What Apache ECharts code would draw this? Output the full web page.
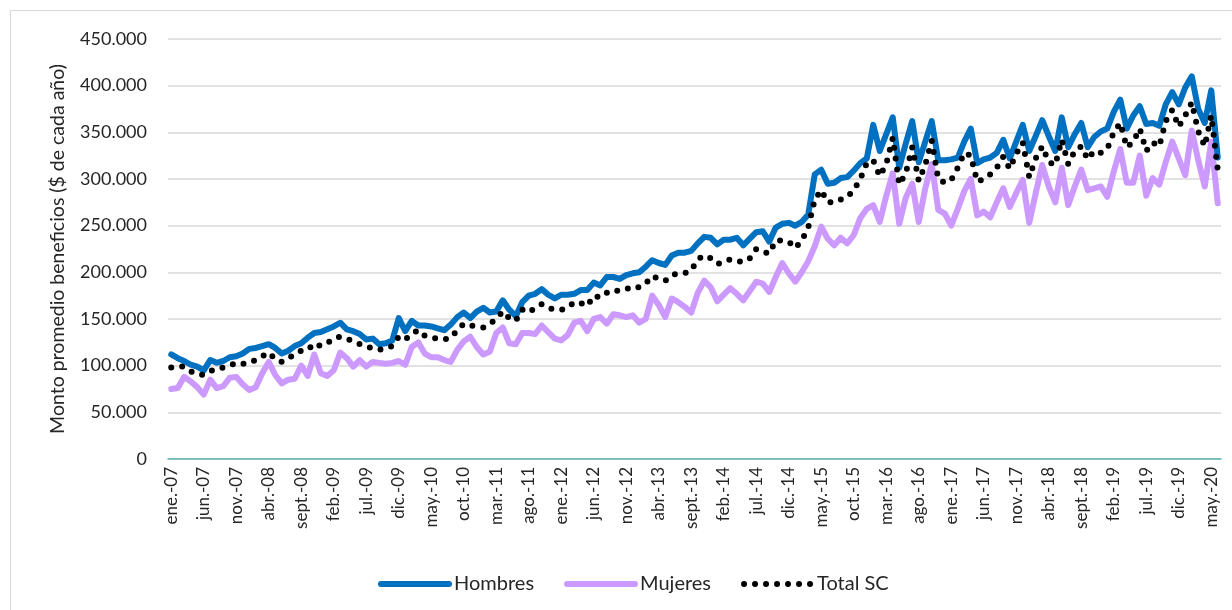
<!DOCTYPE html>
<html>
<head>
<meta charset="utf-8">
<script src="https://cdn.jsdelivr.net/npm/echarts@6/dist/echarts.min.js"></script>
<style>
  html, body { margin: 0; padding: 0; background: #ffffff; }
  #frame { position: absolute; left: 10px; top: 10px; width: 1240px; height: 620px; border: 1px solid #d9d9d9; box-sizing: border-box; }
  #chart { position: absolute; left: 0; top: 0; width: 1232px; height: 610px; }
</style>
</head>
<body>
<div id="frame"></div>
<div id="chart"></div>
<script>
// Month abbreviations and years used for the category labels
const monthAbbr = ['ene.', 'feb.', 'mar.', 'abr.', 'may.', 'jun.', 'jul.', 'ago.', 'sept.', 'oct.', 'nov.', 'dic.'];
const years = ['07','08','09','10','11','12','13','14','15','16','17','18','19','20'];
const lastYearMonths = 6; // data ends jun.-20

// Y tick values (thousands of $)
const yTicks = [0, 50, 100, 150, 200, 250, 300, 350, 400, 450];

// Series values, thousands of $ (ene.-07 ... jun.-20)
const hombres = [
  112,108,105,101, 99, 95,106,103,105,109,110,113,
  118,119,121,123,119,113,116,121,124,130,135,136,
  139,142,146,139,137,134,128,129,123,124,127,151,
  137,148,143,143,142,140,138,144,152,157,151,158,
  162,157,158,170,160,153,168,175,177,182,176,172,
  176,176,177,181,181,189,186,195,195,193,197,199,
  200,206,213,210,208,218,221,221,223,231,238,237,
  230,235,235,237,229,236,243,244,233,248,252,253,
  250,254,262,305,310,295,296,301,302,309,317,322,
  358,330,348,366,312,338,362,318,340,362,320,320,
  321,323,340,354,317,321,323,328,342,322,340,358,
  330,346,363,346,330,366,334,348,360,334,345,351,
  354,372,385,354,368,378,359,360,357,380,393,380,
  398,410,375,360,395,323
];
const mujeres = [
   75, 76, 88, 83, 77, 69, 85, 76, 78, 87, 88, 80,
   74, 77, 92,104, 90, 81, 85, 86,100, 89,112, 92,
   89, 95,114,108, 99,106, 99,104,103,102,103,105,
  101,120,125,113,109,109,106,104,117,126,131,120,
  112,115,135,141,124,123,135,135,134,143,136,129,
  127,133,146,148,137,150,152,145,155,154,152,154,
  146,150,175,165,152,172,168,163,157,178,191,184,
  169,176,183,177,170,180,190,188,179,195,210,199,
  190,200,212,228,249,236,229,237,231,240,258,268,
  272,254,282,306,252,280,295,254,290,316,267,263,
  250,268,287,300,261,265,259,275,290,270,285,299,
  253,285,315,292,275,312,272,292,310,288,290,292,
  281,308,332,296,296,325,282,301,294,318,340,322,
  304,352,320,292,340,274
];
const totalSC = [
   98, 99, 99, 94, 91, 90, 94, 97, 98,100,103,102,
  103,106,110,114,107,104,108,112,116,117,124,121,
  124,129,131,129,126,123,120,119,117,119,121,131,
  128,134,138,132,130,129,128,130,138,145,143,142,
  141,145,150,158,151,148,160,157,162,166,162,160,
  160,162,168,167,164,175,173,178,181,180,182,185,
  184,188,196,193,191,197,199,199,202,214,218,215,
  209,211,214,212,211,215,225,222,220,234,234,233,
  226,234,248,278,288,275,275,278,281,288,300,317,
  320,303,316,344,294,306,334,298,315,341,300,296,
  299,312,328,325,297,300,305,312,324,311,327,339,
  302,322,335,318,315,342,316,330,335,321,330,328,
  332,350,360,334,340,354,330,339,335,362,374,356,
  368,382,351,335,368,310
];

const categories = [];
years.forEach((y, yi) => {
  const n = yi === years.length - 1 ? lastYearMonths : 12;
  for (let m = 0; m < n; m++) categories.push(monthAbbr[m] + '-' + y);
});

const FONT = 'Lato';
const chart = echarts.init(document.getElementById('chart'), null, { renderer: 'canvas' });
chart.setOption({
  animation: false,
  backgroundColor: 'transparent',
  textStyle: { fontFamily: FONT },
  grid: { left: 168, right: 11, top: 39, bottom: 151, containLabel: false },
  legend: {
    left: 373, top: 569,
    itemWidth: 68, itemHeight: 14, itemGap: 30,
    itemStyle: { opacity: 0, color: 'transparent', borderWidth: 0 },
    lineStyle: { width: 6 },
    textStyle: { fontFamily: FONT, fontSize: 20, color: '#262626' },
    data: ['Hombres', 'Mujeres', 'Total SC']
  },
  xAxis: {
    type: 'category',
    data: categories,
    boundaryGap: true,
    axisLine: { show: true, lineStyle: { color: '#5cb4ad', width: 1.5 } },
    axisTick: { show: false },
    axisLabel: {
      interval: 4, rotate: 90, margin: 8,
      fontFamily: FONT, fontSize: 17, color: '#262626'
    },
    splitLine: { show: false }
  },
  yAxis: {
    type: 'value',
    min: yTicks[0], max: yTicks[yTicks.length - 1], interval: yTicks[1] - yTicks[0],
    name: 'Monto promedio beneficios ($ de cada año)',
    nameLocation: 'middle', nameGap: 100, nameRotate: 90,
    nameTextStyle: { fontFamily: FONT, fontSize: 19.5, color: '#262626' },
    axisLine: { show: false },
    axisTick: { show: false },
    axisLabel: {
      margin: 21, fontFamily: FONT, fontSize: 18, color: '#262626',
      formatter: v => (v === 0 ? '0' : v + '.000')
    },
    splitLine: { lineStyle: { color: '#d9d9d9', width: 1.5 } }
  },
  series: [
    {
      name: 'Hombres', type: 'line', data: hombres, showSymbol: false, symbol: 'none',
      itemStyle: { color: '#0070c0' },
      lineStyle: { color: '#0070c0', width: 6, join: 'round', cap: 'round' },
      z: 3
    },
    {
      name: 'Mujeres', type: 'line', data: mujeres, showSymbol: false, symbol: 'none',
      itemStyle: { color: '#cc99ff' },
      lineStyle: { color: '#cc99ff', width: 6, join: 'round', cap: 'round' },
      z: 2
    },
    {
      name: 'Total SC', type: 'line', data: totalSC, showSymbol: false, symbol: 'none',
      itemStyle: { color: '#000000' },
      lineStyle: { color: '#000000', width: 6, type: [0, 11], cap: 'round', join: 'round' },
      z: 4
    }
  ]
});
</script>
</body>
</html>
